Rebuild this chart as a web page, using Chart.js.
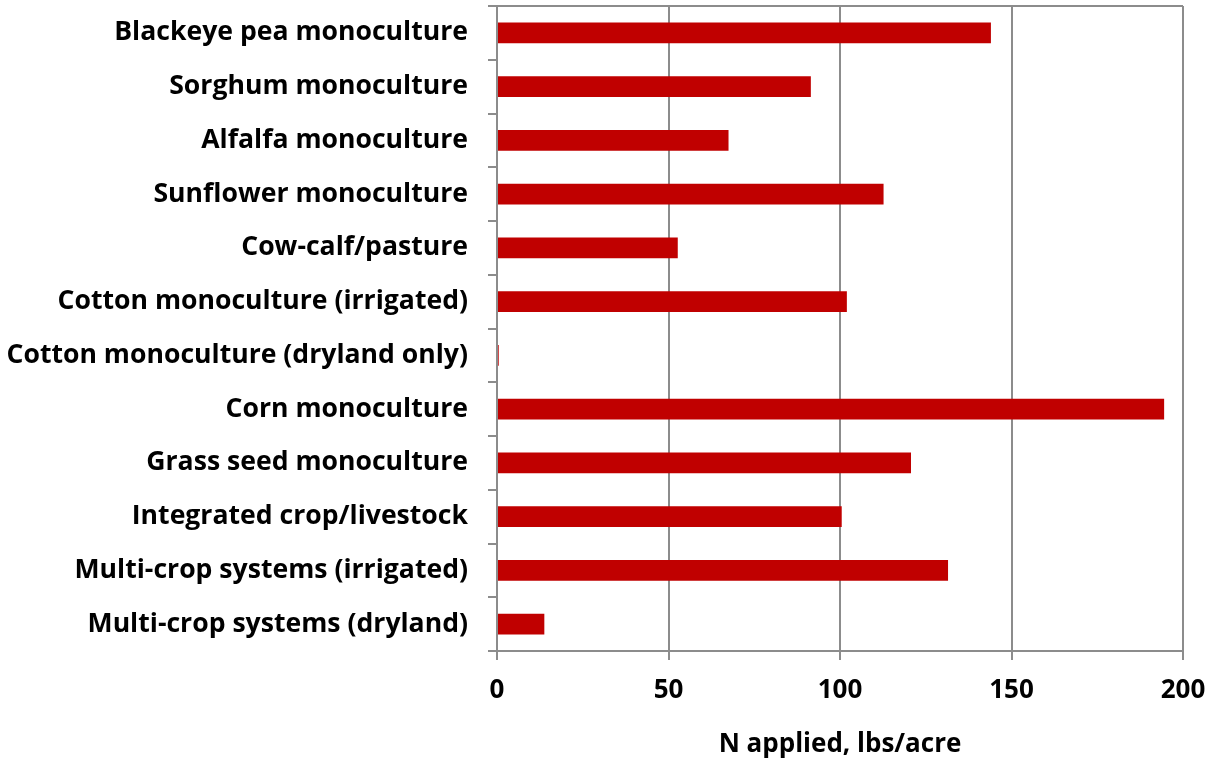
<!DOCTYPE html>
<html>
<head>
<meta charset="utf-8">
<script src="https://cdn.jsdelivr.net/npm/chart.js@4/dist/chart.umd.min.js"></script>
<style>
  html, body { margin: 0; padding: 0; background: #fff; }
  #wrap { width: 1214px; height: 759px; }
</style>
</head>
<body>
<div id="wrap"><canvas id="myChart"></canvas></div>
<script>
	// 작물 시스템 이름
	const systems = [
		"Blackeye pea monoculture",
		"Sorghum monoculture",
		"Alfalfa monoculture",
		"Sunflower monoculture",
		"Cow-calf/pasture",
		"Cotton monoculture (irrigated)",
		"Cotton monoculture (dryland only)",
		"Corn monoculture",
		"Grass seed monoculture",
		"Integrated crop/livestock",
		"Multi-crop systems (irrigated)",
		"Multi-crop systems (dryland)"
	];
	// N applied, lbs/acre
	const nApplied = [144, 91.5, 67.5, 112.7, 52.7, 102, 0.5, 194.5, 120.7, 100.5, 131.5, 13.8];
	const xTicks = [0, 50, 100, 150, 200];
	const xTitle = "N applied, lbs/acre";

	const FONT = "'Open Sans', 'Noto Sans', sans-serif";
	const GRID = "#8c8c8c";

	// 위쪽 테두리선
	const topBorder = {
		id: "topBorder",
		afterDraw(chart) {
			const a = chart.chartArea;
			const c = chart.ctx;
			c.save();
			c.strokeStyle = GRID;
			c.lineWidth = 2;
			c.beginPath();
			c.moveTo(a.left - 9, a.top);
			c.lineTo(a.right, a.top);
			c.stroke();
			c.restore();
		}
	};

	const ctx = document.querySelector('#myChart');
	const chart = new Chart(ctx, {
		type: 'bar',
		data: {
			labels: systems,
			datasets: [{
				data: nApplied,
				backgroundColor: "#c00000",
				borderWidth: 0,
				categoryPercentage: 1,
				barPercentage: 0.39
			}]
		},
		plugins: [topBorder],
		options: {
			indexAxis: 'y',
			responsive: true,
			maintainAspectRatio: false,
			animation: false,
			layout: { padding: { top: 6, right: 31, bottom: 0, left: 0 } },
			plugins: { legend: { display: false }, tooltip: { enabled: false } },
			scales: {
				x: {
					min: 0, max: 200,
					afterBuildTicks: (s) => { s.ticks = xTicks.map(v => ({ value: v })); },
					afterFit: (s) => { s.height = 108; s.paddingRight = 0; s.paddingLeft = 0; },
					grid: { color: GRID, lineWidth: 2, tickLength: 9, drawTicks: true },
					border: { color: GRID, width: 2 },
					ticks: { color: "#000", padding: 15, font: { family: FONT, size: 26, weight: "bold" } },
					title: { display: true, text: xTitle, color: "#000", padding: { top: 0, bottom: 0 }, font: { family: FONT, size: 26, weight: "bold", lineHeight: 1.1 } }
				},
				y: {
					afterFit: (s) => { s.width = 497; s.paddingTop = 0; s.paddingBottom = 0; },
					grid: { offset: true, drawOnChartArea: false, color: GRID, lineWidth: 2, tickLength: 9 },
					border: { color: GRID, width: 2 },
					ticks: { color: "#000", padding: 20, autoSkip: false, font: { family: FONT, size: 26.6, weight: "bold" } }
				}
			}
		}
	});
</script>
</body>
</html>
